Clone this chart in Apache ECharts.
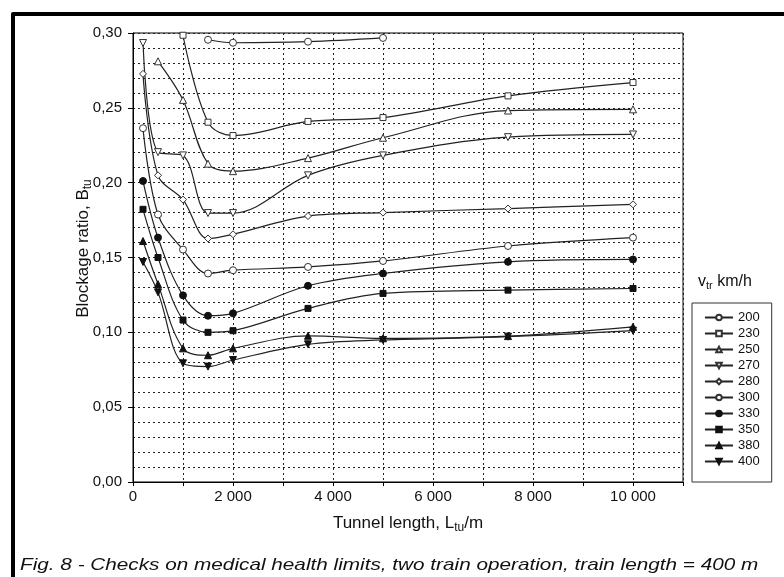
<!DOCTYPE html>
<html>
<head>
<meta charset="utf-8">
<script src="https://cdn.jsdelivr.net/npm/echarts@6/dist/echarts.min.js"></script>
<style>
html,body{margin:0;padding:0;background:#fff;}
#chart{width:784px;height:577px;}
</style>
</head>
<body>
<div id="chart"></div>
<script>
// Tunnel lengths (m) for each speed curve
var L_full = [200, 500, 1000, 1500, 2000, 3500, 5000, 7500, 10000];
var L200 = [1500, 2000, 3500, 5000];
var L230 = [1000, 1500, 2000, 3500, 5000, 7500, 10000];
var L250 = [500, 1000, 1500, 2000, 3500, 5000, 7500, 10000];

// Blockage ratio values
var v200 = [0.2955, 0.2935, 0.2942, 0.2967];
var v230 = [0.2985, 0.2404, 0.2315, 0.2409, 0.2435, 0.2580, 0.2669];
var v250 = [0.2811, 0.2553, 0.2127, 0.2077, 0.2164, 0.2300, 0.2482, 0.2490];
var v270 = [0.2933, 0.2204, 0.2182, 0.1797, 0.1797, 0.2049, 0.2182, 0.2304, 0.2322];
var v280 = [0.2727, 0.2049, 0.1887, 0.1627, 0.1655, 0.1777, 0.1800, 0.1827, 0.1855];
var v300 = [0.2364, 0.1787, 0.1553, 0.1393, 0.1415, 0.1437, 0.1477, 0.1577, 0.1633];
var v330 = [0.2011, 0.1633, 0.1247, 0.1111, 0.1127, 0.1311, 0.1393, 0.1471, 0.1487];
var v350 = [0.1822, 0.1500, 0.1082, 0.1000, 0.1011, 0.1160, 0.1260, 0.1282, 0.1293];
var v380 = [0.1610, 0.1322, 0.0893, 0.0847, 0.0893, 0.0977, 0.0960, 0.0975, 0.1037];
var v400 = [0.1470, 0.1267, 0.0793, 0.0771, 0.0815, 0.0920, 0.0949, 0.0971, 0.1011];

var speeds = ['200', '230', '250', '270', '280', '300', '330', '350', '380', '400'];
var xTickLabels = ['0', '2 000', '4 000', '6 000', '8 000', '10 000'];

function pairs(xs, ys) { return xs.map(function (x, i) { return [x, ys[i]]; }); }

var defs = [
  { name: '200', x: L200, y: v200, symbol: 'circle', open: true, rot: 0 },
  { name: '230', x: L230, y: v230, symbol: 'rect', open: true, rot: 0 },
  { name: '250', x: L250, y: v250, symbol: 'triangle', open: true, rot: 0 },
  { name: '270', x: L_full, y: v270, symbol: 'triangle', open: true, rot: 180 },
  { name: '280', x: L_full, y: v280, symbol: 'diamond', open: true, rot: 0 },
  { name: '300', x: L_full, y: v300, symbol: 'circle', open: true, rot: 0 },
  { name: '330', x: L_full, y: v330, symbol: 'circle', open: false, rot: 0 },
  { name: '350', x: L_full, y: v350, symbol: 'rect', open: false, rot: 0 },
  { name: '380', x: L_full, y: v380, symbol: 'triangle', open: false, rot: 0 },
  { name: '400', x: L_full, y: v400, symbol: 'triangle', open: false, rot: 180 }
];

var series = defs.map(function (d) {
  return {
    name: d.name,
    type: 'line',
    smooth: 0.35,
    data: pairs(d.x, d.y),
    symbol: d.symbol,
    symbolRotate: d.rot,
    symbolSize: d.symbol === 'rect' ? 6 : 7,
    showAllSymbol: true,
    lineStyle: { color: '#222', width: 1.2 },
    itemStyle: d.open
      ? { color: '#fff', borderColor: '#333', borderWidth: 1 }
      : { color: '#111', borderColor: '#111', borderWidth: 1 },
    emphasis: { disabled: true },
    z: 3
  };
});

var chart = echarts.init(document.getElementById('chart'), null, { renderer: 'canvas' });
var FONT = '"Liberation Sans", Arial, sans-serif';

chart.setOption({
  animation: false,
  backgroundColor: '#fff',
  textStyle: { fontFamily: FONT },
  grid: { left: 133, right: 101, top: 33, bottom: 95, show: true, borderColor: '#000', borderWidth: 1, containLabel: false },
  xAxis: {
    type: 'value', min: 0, max: 11000, interval: 1000,
    name: '{n|Tunnel length, L}{s|tu}{n|/m}',
    nameLocation: 'middle', nameGap: 31,
    nameTextStyle: { rich: {
      n: { fontSize: 17, color: '#111', fontFamily: FONT },
      s: { fontSize: 12, color: '#111', fontFamily: FONT, padding: [9, 0, 0, 0] }
    } },
    axisLine: { show: true, lineStyle: { color: '#000', width: 1 } },
    axisTick: { show: true, inside: false, length: 4, lineStyle: { color: '#000' } },
    axisLabel: {
      color: '#111', fontSize: 15, margin: 7, fontFamily: FONT,
      formatter: function (v) {
        if (v % 2000 !== 0 || v > 10000) return '';
        return xTickLabels[v / 2000];
      }
    },
    splitLine: { show: true, lineStyle: { color: '#222', type: [2, 3], width: 1 } }
  },
  yAxis: {
    type: 'value', min: 0, max: 0.3, interval: 0.05,
    name: '{n|Blockage ratio, B}{s|tu}',
    nameLocation: 'middle', nameGap: 39, nameRotate: 90, nameMoveOverlap: false,
    nameTextStyle: { padding: [0, 0, 0, 18], rich: {
      n: { fontSize: 17, color: '#111', fontFamily: FONT },
      s: { fontSize: 12, color: '#111', fontFamily: FONT, padding: [9, 0, 0, 0] }
    } },
    axisLine: { show: true, lineStyle: { color: '#000', width: 1 } },
    axisTick: { show: true, inside: false, length: 5, lineStyle: { color: '#000' } },
    minorTick: { show: false, splitNumber: 5 },
    axisLabel: {
      color: '#111', fontSize: 15, margin: 11, fontFamily: FONT,
      formatter: function (v) { return v.toFixed(2).replace('.', ','); }
    },
    splitLine: { show: true, lineStyle: { color: '#222', type: [2, 3], width: 1 } },
    minorSplitLine: { show: true, lineStyle: { color: '#222', type: [2, 3], width: 1 } }
  },
  legend: {
    orient: 'vertical',
    left: 692, top: 303,
    data: speeds,
    itemWidth: 28, itemHeight: 7, itemGap: 3,
    padding: [8, 12, 14, 12],
    borderColor: '#333', borderWidth: 1,
    backgroundColor: '#fff',
    textStyle: { fontSize: 13, color: '#111', fontFamily: FONT },
    selectedMode: false
  },
  graphic: [
    { type: 'polyline', silent: true, shape: { points: [[13, 577], [13, 14], [784, 14]] },
      style: { stroke: '#000', lineWidth: 4, fill: null, lineJoin: 'round' }, z: 10 },
    { type: 'text', left: 698, top: 274, silent: true,
      style: { text: '{n|v}{s|tr}{n| km/h}', rich: {
        n: { fontSize: 16, fill: '#111', fontFamily: FONT },
        s: { fontSize: 11, fill: '#111', fontFamily: FONT, padding: [8, 0, 0, 0] }
      } } },
    { type: 'text', x: 20, y: 565, scaleX: 1.22, silent: true,
      style: { text: 'Fig. 8 - Checks on medical health limits, two train operation, train length = 400 m',
        x: 0, y: 0, verticalAlign: 'middle', textVerticalAlign: 'middle',
        fontSize: 17, fontStyle: 'italic', fill: '#111', fontFamily: FONT } }
  ],
  series: series
});
</script>
</body>
</html>
